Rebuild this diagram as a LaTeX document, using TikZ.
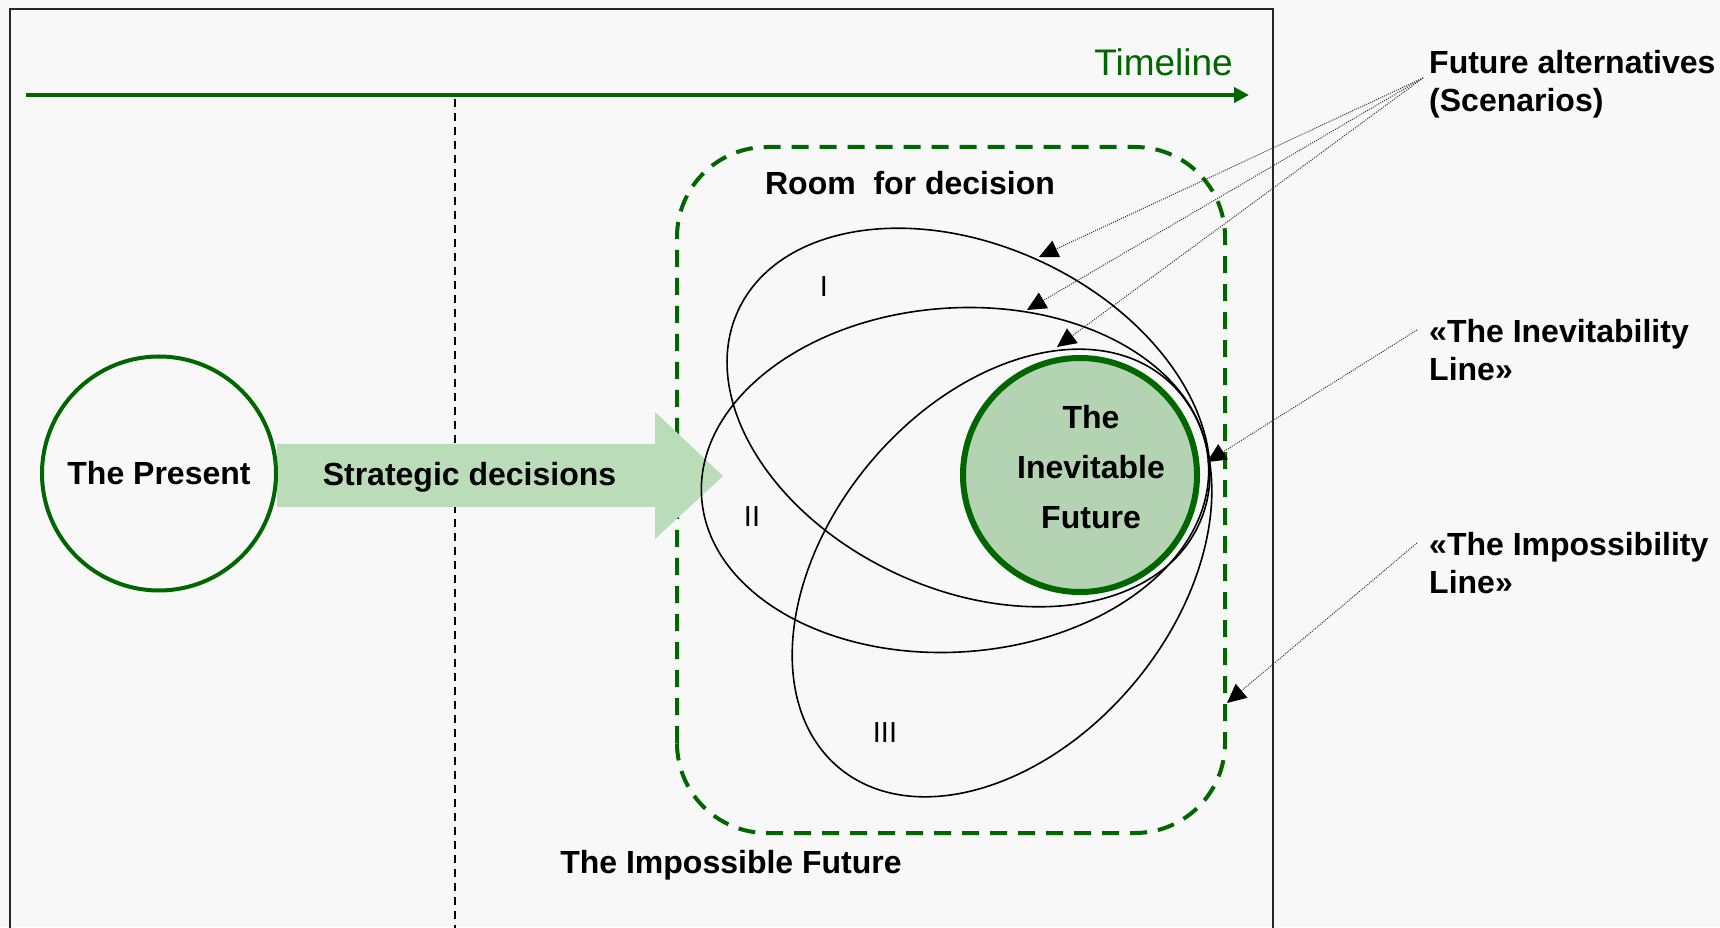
\documentclass[tikz,border=0pt]{standalone}
\usepackage{fontspec}
\setmainfont{Liberation Sans}
\usetikzlibrary{arrows.meta}
\definecolor{fgreen}{RGB}{0,102,0}
\definecolor{arrowgreen}{RGB}{186,220,185}
\definecolor{inevgreen}{RGB}{179,211,179}
\definecolor{paper}{RGB}{248,248,248}

\begin{document}
\begin{tikzpicture}[x=1pt, y=1pt,
  lbl/.style={font=\fontsize{32}{38}\selectfont\bfseries, inner sep=0pt},
  roman/.style={font=\fontsize{29}{34}\selectfont, inner sep=0pt},
  note/.style={lbl, align=left, anchor=north west},
  pointer/.style={color=black!80, line width=1pt, dash pattern=on 1pt off 1.2pt, -{Triangle[length=19pt,width=18pt,color=black,fill=black]}},
  scenario/.style={draw=black, line width=1.6pt}]
  \path[use as bounding box, fill=paper] (0,0) rectangle (1720,927);
  % frame and timeline
  \draw[line width=1.7pt, black!85] (10,-10) |- (1273,918) -- (1273,-10);
  \coordinate (tstart) at (26,832);
  \coordinate (tend) at (1249,832);
  \draw[fgreen, line width=4pt, -{Triangle[length=15pt,width=15pt]}] (tstart) -- (tend);
  \node[font=\fontsize{37}{44}\selectfont, text=fgreen, anchor=base east, inner sep=0pt] (timelabel) at (1233,851) {Timeline};
  \draw[line width=1.4pt, dash pattern=on 8pt off 6pt] (455,828) -- (455,-10);
  % room for decision
  \draw[fgreen, line width=4pt, dash pattern=on 17pt off 11pt, rounded corners=90pt] (677,94) rectangle (1225,780);
  \node[lbl, anchor=base] (room) at (910,732) {Room~~for decision};
  \node[lbl, anchor=base] (impossible) at (731,54) {The Impossible Future};
  % strategic decisions
  \fill[arrowgreen] (277,420) -- (655,420) -- (655,388) -- (723,451) -- (655,515) -- (655,483) -- (277,483) -- cycle;
  \node[lbl, anchor=base] (strategic) at (469.5,441) {Strategic decisions};
  \node[circle, draw=fgreen, line width=4pt, minimum size=234pt, lbl] (present) at (159,453.5) {The Present};
  % scenarios
  \draw[scenario, rotate around={-25:(968.5,509.5)}] (968.5,509.5) ellipse [x radius=254, y radius=172];
  \draw[scenario, rotate around={4:(955,447)}] (955,447) ellipse [x radius=254, y radius=172];
  \draw[scenario, rotate around={50:(1002,354)}] (1002,354) ellipse [x radius=254, y radius=172];
  \node[roman] (sI) at (824,640) {I};
  \node[roman] (sII) at (752,410) {II};
  \node[roman] (sIII) at (885,194.5) {III};
  \node[circle, draw=fgreen, fill=inevgreen, line width=6pt, minimum size=234pt, inner sep=0pt] (inevitable) at (1080,452) {};
  \node[lbl, align=center, font=\fontsize{32}{50}\selectfont\bfseries] (inevtext) at (1091,460) {The\\Inevitable\\Future};
  % notes
  \node[note] (scen) at (1429,877) {Future alternatives\\(Scenarios)};
  \node[note] (inevline) at (1429,608) {«The Inevitability\\Line»};
  \node[note] (impline) at (1429,395) {«The Impossibility\\Line»};
  \coordinate (scenfrom) at (1423,849);
  \coordinate (tipI) at (1039,670);
  \coordinate (tipII) at (1027,617);
  \coordinate (tipIII) at (1057,580);
  \coordinate (inevfrom) at (1417,597);
  \coordinate (inevto) at (1207,465);
  \coordinate (impfrom) at (1417,384);
  \coordinate (impto) at (1227,224);
  \path[pointer] (scenfrom) edge (tipI) edge (tipII) edge (tipIII);
  \path[pointer] (inevfrom) edge (inevto);
  \path[pointer] (impfrom) edge (impto);
\end{tikzpicture}
\end{document}
